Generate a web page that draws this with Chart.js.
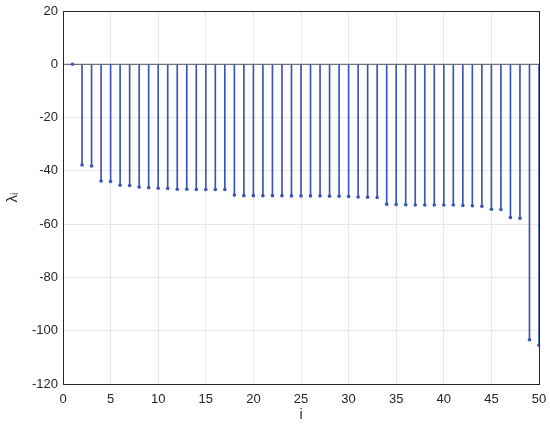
<!DOCTYPE html>
<html>
<head>
<meta charset="utf-8">
<script src="https://cdn.jsdelivr.net/npm/chart.js@4"></script>
<style>
  html, body { margin: 0; padding: 0; background: #fff; }
  #wrap { width: 550px; height: 428px; }
</style>
</head>
<body>
<div id="wrap"><canvas id="chart" width="550" height="428"></canvas></div>
<script>
'use strict';

// Eigenvalue index and value
const indices = [1, 2, 3, 4, 5, 6, 7, 8, 9, 10,
  11, 12, 13, 14, 15, 16, 17, 18, 19, 20,
  21, 22, 23, 24, 25, 26, 27, 28, 29, 30,
  31, 32, 33, 34, 35, 36, 37, 38, 39, 40,
  41, 42, 43, 44, 45, 46, 47, 48, 49, 50];
const lambdas = [0, -37.8, -38.2, -43.8, -44.0, -45.4, -45.5, -46.1, -46.3, -46.5,
  -46.6, -46.9, -46.9, -47.0, -47.0, -47.0, -47.0, -49.1, -49.3, -49.3,
  -49.3, -49.3, -49.3, -49.4, -49.4, -49.4, -49.4, -49.5, -49.5, -49.6,
  -49.8, -49.9, -50.0, -52.5, -52.6, -52.7, -52.8, -52.8, -52.8, -52.8,
  -52.8, -53.0, -53.1, -53.3, -54.4, -54.5, -57.5, -57.8, -103.4, -105.5];
const xTicks = [0, 5, 10, 15, 20, 25, 30, 35, 40, 45, 50];
const yTicks = [20, 0, -20, -40, -60, -80, -100, -120];

const STEM = '#3a54b6';
const AXIS = '#262626';
const GRID = '#e8e8e8';
const FONT = { family: 'Liberation Sans, Arial, sans-serif', size: 13 };

// box around the plot area, like MATLAB's "box on"
const boxPlugin = {
  id: 'box',
  afterDatasetsDraw(chart) {
    const { ctx, chartArea: a } = chart;
    ctx.save();
    ctx.strokeStyle = AXIS;
    ctx.lineWidth = 1;
    ctx.strokeRect(Math.round(a.left) + 0.5, Math.round(a.top) + 0.5,
      Math.round(a.right - a.left), Math.round(a.bottom - a.top));
    ctx.restore();
  },
};

new Chart(document.getElementById('chart'), {
  type: 'bar',
  data: {
    datasets: [
      {
        type: 'line',
        data: [{ x: xTicks[0], y: 0 }, { x: xTicks[xTicks.length - 1], y: 0 }],
        borderColor: '#555555',
        borderWidth: 1,
        pointRadius: 0,
        order: 3,
      },
      {
        type: 'bar',
        data: indices.map((x, k) => ({ x, y: [0, lambdas[k]] })),
        backgroundColor: STEM,
        borderWidth: 0,
        barThickness: 1,
        order: 2,
      },
      {
        type: 'line',
        data: indices.map((x, k) => ({ x, y: lambdas[k] })),
        showLine: false,
        pointRadius: 1.8,
        pointBackgroundColor: STEM,
        pointBorderColor: STEM,
        pointBorderWidth: 0,
        order: 1,
      },
    ],
  },
  options: {
    responsive: false,
    animation: false,
    layout: { padding: { top: 11, right: 11, left: 0, bottom: 0 } },
    plugins: { legend: { display: false }, tooltip: { enabled: false } },
    scales: {
      x: {
        type: 'linear',
        min: 0,
        max: 50,
        offset: false,
        afterBuildTicks: (s) => { s.ticks = xTicks.map(v => ({ value: v })); },
        afterFit: (s) => { s.height = 44; s.paddingLeft = 0; s.paddingRight = 0; },
        ticks: { color: AXIS, font: FONT, padding: 8, maxRotation: 0 },
        grid: { color: GRID, drawTicks: false, offset: false },
        border: { display: false },
        title: { display: true, text: 'i', color: AXIS, font: { ...FONT, size: 14 }, padding: { top: 0 } },
      },
      y: {
        min: -120,
        max: 20,
        afterBuildTicks: (s) => { s.ticks = yTicks.map(v => ({ value: v })); },
        afterFit: (s) => { s.width = 63; s.paddingTop = 0; s.paddingBottom = 0; },
        ticks: { color: AXIS, font: FONT, padding: 5 },
        grid: { color: GRID, drawTicks: false },
        border: { display: false },
        title: { display: true, text: 'λᵢ', color: AXIS, font: { ...FONT, size: 15 }, padding: { bottom: 2 } },
      },
    },
  },
  plugins: [boxPlugin],
});
</script>
</body>
</html>
